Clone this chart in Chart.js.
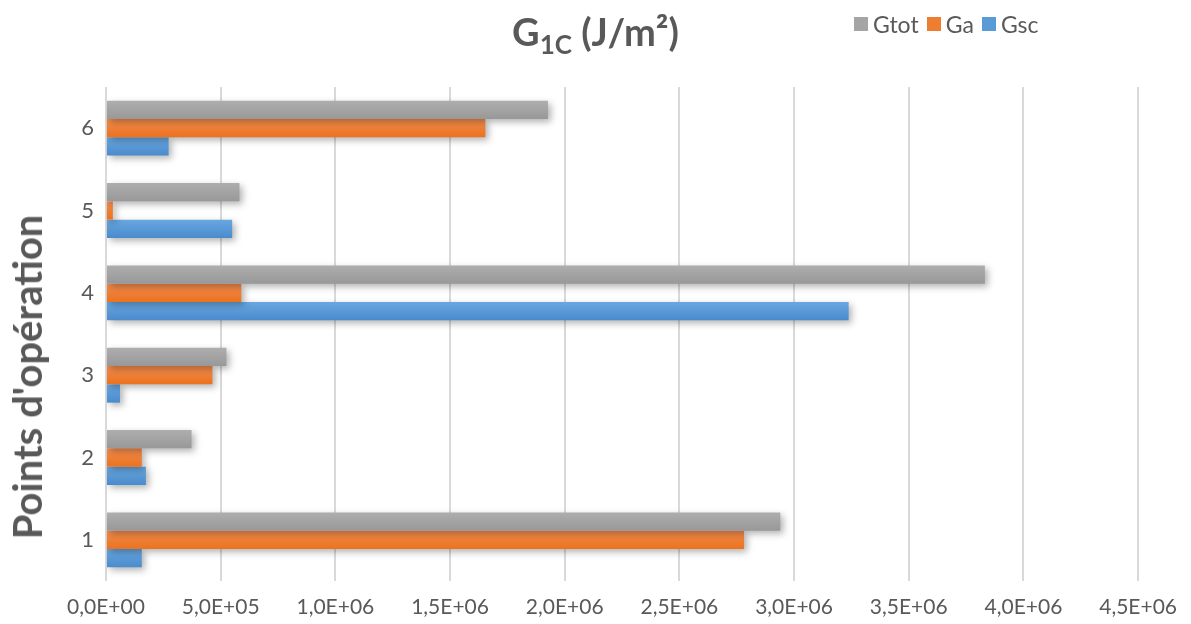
<!DOCTYPE html>
<html>
<head>
<meta charset="utf-8">
<script src="https://cdn.jsdelivr.net/npm/chart.js@4"></script>
<style>
  html, body { margin: 0; padding: 0; background: #fff; }
  #wrap { position: relative; width: 1191px; height: 624px; font-family: Lato, sans-serif; color: #595959; }
  #title { position: absolute; left: 0; width: 1191px; top: 8px; text-align: center; font-weight: bold; font-size: 38px; }
  #title sub { font-size: 26px; vertical-align: -8px; }
  #ytitle { position: absolute; left: 27px; top: 377px; transform: translate(-50%, -50%) rotate(-90deg); white-space: nowrap; font-weight: bold; font-size: 40px; }
  #legend { position: absolute; left: 854px; top: 10px; display: flex; font-size: 23px; }
  #legend span.item { display: flex; align-items: center; margin-right: 8px; }
  #legend span.box { width: 14px; height: 14px; margin-right: 5px; }
</style>
</head>
<body>
<div id="wrap">
  <canvas id="chart" width="1191" height="624"></canvas>
  <div id="title">G<sub>1C</sub> (J/m²)</div>
  <div id="ytitle">Points d'opération</div>
  <div id="legend"></div>
</div>
<script>
// categories (points d'opération), bottom to top
const points = ['1', '2', '3', '4', '5', '6'];

// values in J/m²
const gtot = [2.940e6, 0.373e6, 0.525e6, 3.832e6, 0.582e6, 1.927e6];
const ga   = [2.782e6, 0.156e6, 0.464e6, 0.590e6, 0.030e6, 1.654e6];
const gsc  = [0.156e6, 0.174e6, 0.061e6, 3.238e6, 0.550e6, 0.273e6];

const seriesNames = ['Gtot', 'Ga', 'Gsc'];
const seriesColors = ['#A5A5A5', '#ED7D31', '#5B9BD5'];
// top / bottom shades for the gradient look
const seriesShades = [['#AEAEAE', '#989898'], ['#F38C4E', '#EB721E'], ['#69A7E0', '#4A8BCD']];

// Excel style number format: 2,5E+06
function sci(v) {
  const s = Number(v).toExponential(1); // "2.5e+6"
  const [m, e] = s.split('e');
  const sign = e[0] === '-' ? '-' : '+';
  const exp = Math.abs(parseInt(e, 10)).toString().padStart(2, '0');
  return m.replace('.', ',') + 'E' + sign + exp;
}

function gradFill(i) {
  return (context) => {
    const el = context.element;
    if (!el || el.y == null || el.height == null || isNaN(el.y)) return seriesColors[i];
    const c = context.chart.ctx;
    const g = c.createLinearGradient(0, el.y - el.height / 2, 0, el.y + el.height / 2);
    g.addColorStop(0, seriesShades[i][0]);
    g.addColorStop(1, seriesShades[i][1]);
    return g;
  };
}

const shadowPlugin = {
  id: 'barShadow',
  beforeDatasetsDraw(chart) {
    const c = chart.ctx;
    c.save();
    c.shadowColor = 'rgba(0,0,0,0.3)';
    c.shadowBlur = 7;
    c.shadowOffsetX = 3;
    c.shadowOffsetY = 3;
  },
  afterDatasetsDraw(chart) {
    chart.ctx.restore();
  },
};

const values = [gtot, ga, gsc];

const ctx = document.getElementById('chart').getContext('2d');
const chart = new Chart(ctx, {
  type: 'bar',
  data: {
    labels: points,
    datasets: seriesNames.map((name, i) => ({
      label: name,
      data: values[i],
      backgroundColor: gradFill(i),
      borderWidth: 0,
      barPercentage: 1,
      categoryPercentage: 0.667,
    })),
  },
  options: {
    indexAxis: 'y',
    responsive: false,
    animation: false,
    layout: { padding: { top: 87, right: 44, left: 0, bottom: 0 } },
    scales: {
      x: {
        min: 0,
        max: 4.5e6,
        ticks: {
          stepSize: 5e5,
          color: '#595959',
          font: { family: 'Lato', size: 21 },
          padding: 14,
          maxRotation: 0,
          callback: (v) => sci(v),
        },
        grid: { color: '#D9D9D9', lineWidth: 2, drawTicks: false },
        border: { display: false },
        afterFit: (scale) => { scale.height = 43; },
      },
      y: {
        reverse: true,
        ticks: {
          color: '#595959',
          font: { family: 'Lato', size: 22 },
          padding: 12,
        },
        grid: { display: false, drawTicks: false },
        border: { display: false },
        afterFit: (scale) => { scale.width = 106; },
      },
    },
    plugins: {
      legend: { display: false },
      tooltip: { enabled: false },
    },
  },
  plugins: [shadowPlugin],
});
chart.update('none');

// legend built from the series
const legend = document.getElementById('legend');
seriesNames.forEach((name, i) => {
  const item = document.createElement('span');
  item.className = 'item';
  const box = document.createElement('span');
  box.className = 'box';
  box.style.background = seriesColors[i];
  item.appendChild(box);
  item.appendChild(document.createTextNode(name));
  legend.appendChild(item);
});
</script>
</body>
</html>
